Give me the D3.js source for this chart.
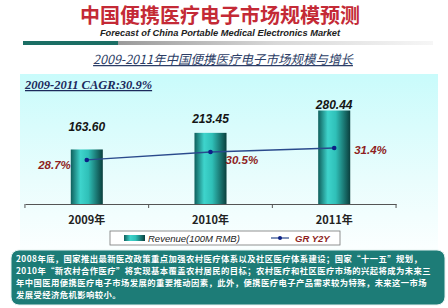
<!DOCTYPE html>
<html>
<head>
<meta charset="utf-8">
<script src="https://cdn.jsdelivr.net/npm/d3@7"></script>
<style>
  body { margin: 0; background: #fff; }
  svg { display: block; }
</style>
</head>
<body>
<div class="canvas"></div>
<script>
// data
const years = ['2009年', '2010年', '2011年'];
const revenue = [163.60, 213.45, 280.44];
const growth = [28.7, 30.5, 31.4];
const noteLines = [
  '2008年底，国家推出最新医改政策重点加强农村医疗体系以及社区医疗体系建设；国家“十一五”规划，',
  '2010年“新农村合作医疗”将实现基本覆盖农村居民的目标；农村医疗和社区医疗市场的兴起将成为未来三',
  '年中国医用便携医疗电子市场发展的重要推动因素，此外，便携医疗电子产品需求较为特殊，未来这一市场',
  '发展受经济危机影响较小。'
];

const dims = { width: 448, height: 308 };
const cjk = '"Noto Sans CJK SC", sans-serif';
const sans = '"Liberation Sans", Arial, sans-serif';

const svg = d3.select('.canvas')
  .append('svg')
  .attr('width', dims.width)
  .attr('height', dims.height);

const defs = svg.append('defs');

// gradients
const barGrad = defs.append('linearGradient').attr('id', 'barGrad')
  .attr('x1', 0).attr('x2', 1).attr('y1', 0).attr('y2', 0);
[['0%', '#0f5f5c'], ['30%', '#3ed4cc'], ['55%', '#2fc0b8'], ['100%', '#0a3f3d']]
  .forEach(s => barGrad.append('stop').attr('offset', s[0]).attr('stop-color', s[1]));

const panelGrad = defs.append('linearGradient').attr('id', 'panelGrad')
  .attr('x1', 0).attr('x2', 0).attr('y1', 0).attr('y2', 1);
[['0%', '#c9fbfb'], ['60%', '#e9fdfd'], ['100%', '#fbffff']]
  .forEach(s => panelGrad.append('stop').attr('offset', s[0]).attr('stop-color', s[1]));

const ruleGrad = defs.append('linearGradient').attr('id', 'ruleGrad')
  .attr('x1', 0).attr('x2', 1).attr('y1', 0).attr('y2', 0);
[['0%', '#9a9a9a'], ['50%', '#d8d8d8'], ['100%', '#f6f6f6']]
  .forEach(s => ruleGrad.append('stop').attr('offset', s[0]).attr('stop-color', s[1]));

// header
svg.append('text')
  .attr('x', 220).attr('y', 23)
  .attr('text-anchor', 'middle')
  .attr('font-family', cjk).attr('font-weight', 'bold')
  .attr('font-size', 20).attr('fill', '#c42a36')
  .text('中国便携医疗电子市场规模预测');

svg.append('text')
  .attr('x', 220).attr('y', 36)
  .attr('text-anchor', 'middle')
  .attr('font-family', sans).attr('font-weight', 'bold').attr('font-style', 'italic')
  .attr('font-size', 9.3).attr('fill', '#222')
  .text('Forecast of China Portable Medical Electronics Market');

svg.append('rect').attr('x', 118).attr('y', 41).attr('width', 315).attr('height', 4)
  .attr('fill', 'url(#ruleGrad)');
svg.append('rect').attr('x', 23).attr('y', 41).attr('width', 95).attr('height', 4)
  .attr('fill', '#1b6e64');

svg.append('text')
  .attr('x', 223).attr('y', 64)
  .attr('text-anchor', 'middle')
  .attr('font-family', cjk).attr('font-style', 'italic')
  .attr('font-size', 12.5).attr('fill', '#2c3d66')
  .attr('text-decoration', 'underline')
  .text('2009-2011年中国便携医疗电子市场规模与增长');

// panel
svg.append('rect').attr('x', 20).attr('y', 74).attr('width', 418).attr('height', 176)
  .attr('fill', 'url(#panelGrad)');

svg.append('text')
  .attr('x', 25).attr('y', 89)
  .attr('font-family', '"Liberation Serif", "Times New Roman", serif')
  .attr('font-weight', 'bold').attr('font-style', 'italic')
  .attr('font-size', 12.5).attr('fill', '#1b2a5c')
  .attr('text-decoration', 'underline')
  .text('2009-2011 CAGR:30.9%');

// scales
const x = d3.scaleBand()
  .domain(years)
  .range([25, 396])
  .paddingInner(0.741)
  .paddingOuter(0.37);

const y = d3.scaleLinear().domain([0, 300]).range([204, 104]);
const y2 = d3.scaleLinear().domain([20, 40]).range([198.6, 109.8]);

const graph = svg.append('g');

// bars
graph.selectAll('rect.bar')
  .data(revenue)
  .enter().append('rect')
    .attr('class', 'bar')
    .attr('x', (d, i) => x(years[i]))
    .attr('y', d => y(d))
    .attr('width', x.bandwidth())
    .attr('height', d => y(0) - y(d))
    .attr('fill', 'url(#barGrad)');

// bar labels
const labelDy = [-18, -10, -2];
graph.selectAll('text.val')
  .data(revenue)
  .enter().append('text')
    .attr('class', 'val')
    .attr('x', (d, i) => x(years[i]) + x.bandwidth() / 2)
    .attr('y', (d, i) => y(d) + labelDy[i])
    .attr('text-anchor', 'middle')
    .attr('font-family', sans).attr('font-weight', 'bold').attr('font-style', 'italic')
    .attr('font-size', 12).attr('fill', '#151515')
    .text(d => d.toFixed(2));

// axis
const xAxis = d3.axisBottom(x).tickSize(0).tickPadding(12);
const xAxisGroup = svg.append('g')
  .attr('transform', `translate(0, ${y(0)})`)
  .call(xAxis);
xAxisGroup.select('.domain').attr('stroke', '#555');
xAxisGroup.selectAll('text')
  .attr('font-family', cjk).attr('font-weight', 'bold')
  .attr('font-size', 11).attr('fill', '#222');

const bounds = years.map(d => x(d) - x.step() * x.paddingInner() / 2)
  .concat([x(years[2]) + x.bandwidth() + x.step() * x.paddingInner() / 2]);
xAxisGroup.selectAll('line.edge')
  .data(bounds)
  .enter().append('line')
    .attr('class', 'edge')
    .attr('x1', d => d).attr('x2', d => d)
    .attr('y1', 0).attr('y2', 4)
    .attr('stroke', '#555');

// growth line
const line = d3.line()
  .x((d, i) => x(years[i]) + x.bandwidth() / 2)
  .y(d => y2(d));

graph.append('path')
  .datum(growth)
  .attr('fill', 'none')
  .attr('stroke', '#2a4a8c')
  .attr('stroke-width', 1.3)
  .attr('d', line);

graph.selectAll('circle')
  .data(growth)
  .enter().append('circle')
    .attr('cx', (d, i) => x(years[i]) + x.bandwidth() / 2)
    .attr('cy', d => y2(d))
    .attr('r', 2.3)
    .attr('fill', '#0b1f86');

const pctOffset = [{ dx: -16, dy: 9, a: 'end' }, { dx: 15, dy: 12, a: 'start' }, { dx: 20, dy: 6, a: 'start' }];
graph.selectAll('text.pct')
  .data(growth)
  .enter().append('text')
    .attr('class', 'pct')
    .attr('x', (d, i) => x(years[i]) + x.bandwidth() / 2 + pctOffset[i].dx)
    .attr('y', (d, i) => y2(d) + pctOffset[i].dy)
    .attr('text-anchor', (d, i) => pctOffset[i].a)
    .attr('font-family', sans).attr('font-weight', 'bold').attr('font-style', 'italic')
    .attr('font-size', 11.5).attr('fill', '#8e1f22')
    .text(d => d.toFixed(1) + '%');

// legend
const legend = svg.append('g').attr('transform', 'translate(110, 231)');
legend.append('rect').attr('width', 230).attr('height', 14)
  .attr('fill', '#fff').attr('stroke', '#777').attr('stroke-width', 0.8);
legend.append('rect').attr('x', 14).attr('y', 4).attr('width', 21).attr('height', 6)
  .attr('fill', 'url(#barGrad)');
legend.append('text').attr('x', 38).attr('y', 11)
  .attr('font-family', sans).attr('font-style', 'italic')
  .attr('font-size', 9.5).attr('fill', '#222')
  .text('Revenue(100M RMB)');
legend.append('line').attr('x1', 161).attr('x2', 179).attr('y1', 7).attr('y2', 7)
  .attr('stroke', '#2a4a8c').attr('stroke-width', 1.2);
legend.append('circle').attr('cx', 170).attr('cy', 7).attr('r', 2)
  .attr('fill', '#0b1f86');
legend.append('text').attr('x', 185).attr('y', 11)
  .attr('font-family', sans).attr('font-weight', 'bold').attr('font-style', 'italic')
  .attr('font-size', 9.5).attr('fill', '#8e1f22')
  .text('GR Y2Y');

// note box
svg.append('rect')
  .attr('x', 11).attr('y', 250).attr('width', 434).attr('height', 55)
  .attr('rx', 8)
  .attr('fill', '#1d7c77')
  .attr('stroke', '#e6f2f1').attr('stroke-width', 1);

svg.selectAll('text.note')
  .data(noteLines)
  .enter().append('text')
    .attr('class', 'note')
    .attr('x', 16)
    .attr('y', (d, i) => 262 + i * 12)
    .attr('font-family', cjk).attr('font-weight', 'bold')
    .attr('font-size', 8.3).attr('letter-spacing', 0.45).attr('fill', '#fff')
    .text(d => d);
</script>
</body>
</html>
